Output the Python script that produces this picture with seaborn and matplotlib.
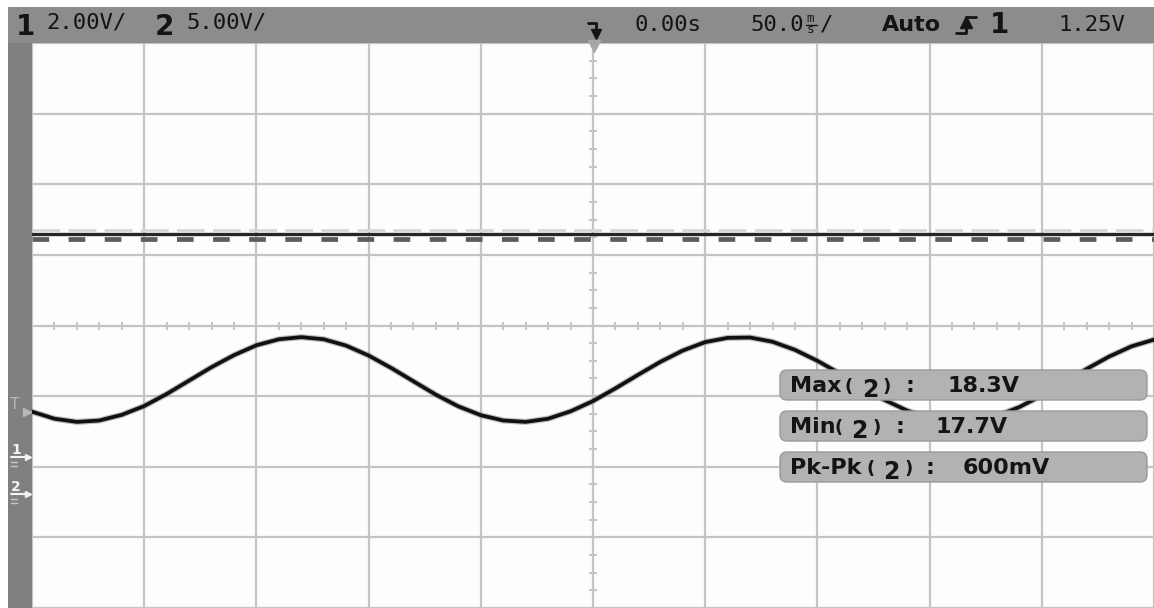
import numpy as np
import matplotlib
matplotlib.use("Agg")
import matplotlib.pyplot as plt
import seaborn as sns
from matplotlib.patches import Rectangle, FancyBboxPatch

# ---- captured data -------------------------------------------------------
# channel 1 trace, one reading every 10 ms across the screen (volts)
time_ms = list(range(-250, 251, 10))
ch1_volts = [1.14, 0.94, 0.85, 0.89, 1.05, 1.30, 1.64, 2.02, 2.40, 2.74,
             3.02, 3.19, 3.25, 3.19, 3.01, 2.73, 2.38, 2.00, 1.62, 1.29,
             1.04, 0.89, 0.85, 0.94, 1.15, 1.44, 1.80, 2.18, 2.55, 2.87,
             3.11, 3.23, 3.24, 3.12, 2.89, 2.58, 2.22, 1.83, 1.47, 1.17,
             0.96, 0.86, 0.88, 1.02, 1.27, 1.60, 1.97, 2.35, 2.70, 2.99,
             3.18]

# channel 2 measurements (volts)
ch2_max = 18.3
ch2_min = 17.7
ch2_pkpk_mv = 600

# scope settings
ch1_scale = 2.00      # V/div
ch2_scale = 5.00      # V/div
time_scale = 50.0     # ms/div
trigger_delay = 0.00  # s
trigger_level = 1.25  # V
ch1_ground_div = -1.79
ch2_ground_div = -2.31

# ---- canvas --------------------------------------------------------------
W, H = 1154, 608
sns.set_style("white")
plt.rcParams["lines.scale_dashes"] = False
fig = plt.figure(figsize=(W / 100, H / 100), dpi=100)
fig.patch.set_facecolor("white")

# graticule area in pixels: centre at (593.5, 328), 112.5 px / 72 px per div
cx, cy, pxd, pyd = 593.5, 328.0, 112.5, 72.0
left, top, right, bottom = 32, 43, W, H
ax = fig.add_axes([left / W, 1 - bottom / H, (right - left) / W, (bottom - top) / H])
ax.set_xlim((left - cx) / pxd * time_scale, (right - cx) / pxd * time_scale)
ax.set_ylim((cy - bottom) / pyd, (cy - top) / pyd)
for s in ax.spines.values():
    s.set_visible(False)
ax.set_facecolor("#fdfdfd")

grid_col = "#c4c4c4"
ax.set_xticks(np.arange(-5, 6) * time_scale)
ax.set_yticks(np.arange(-4, 5))
ax.grid(True, color=grid_col, lw=1.6)
ax.tick_params(length=0, labelbottom=False, labelleft=False)
ax.set_xlabel("")
ax.set_ylabel("")

# sub-division ticks on the centre axes
sub_x = [v for v in np.arange(-250, 251, 10) if v % 50 != 0]
sub_y = [v for v in np.arange(-4, 4.01, 0.25) if abs(v - round(v)) > 1e-6]
ax.plot(sub_x, np.zeros(len(sub_x)), ls="none", marker="|", ms=6,
        mew=1.4, color=grid_col, zorder=2)
ax.plot(np.zeros(len(sub_y)), sub_y, ls="none", marker="_", ms=6,
        mew=1.4, color=grid_col, zorder=2)

# channel 2: mean level with max/min envelope
ch2_mean = (ch2_max + ch2_min) / 2
span = [time_ms[0], time_ms[-1]]
y_hi = ch2_ground_div + ch2_max / ch2_scale
y_lo = ch2_ground_div + ch2_min / ch2_scale
y_mid = ch2_ground_div + ch2_mean / ch2_scale
sns.lineplot(x=span, y=[y_hi, y_hi], ax=ax, color="#d6d6d6", lw=2.0,
             dashes=(20, 6), zorder=3)
sns.lineplot(x=span, y=[y_lo, y_lo], ax=ax, color="#5c5c5c", lw=3.4,
             dashes=(12, 14), zorder=3)
sns.lineplot(x=span, y=[y_mid, y_mid], ax=ax, color="#262626", lw=2.4, zorder=4)

# channel 1 trace
ch1_div = [ch1_ground_div + v / ch1_scale for v in ch1_volts]
sns.lineplot(x=time_ms, y=ch1_div, ax=ax, color="#8a8a8a", lw=4.4, alpha=0.55,
             zorder=5, solid_joinstyle="round")
sns.lineplot(x=time_ms, y=ch1_div, ax=ax, color="#111111", lw=2.7, zorder=6,
             solid_joinstyle="round")

# ---- overlay (pixel coordinates, y down) ----------------------------------
ov = fig.add_axes([0, 0, 1, 1], zorder=10)
ov.set_xlim(0, W)
ov.set_ylim(H, 0)
ov.axis("off")
ov.patch.set_alpha(0)

bar_col = "#8c8c8c"
ov.add_patch(Rectangle((8, 7), W - 8, 36, color=bar_col, lw=0))
ov.add_patch(Rectangle((8, 43), 24, H - 43, color="#808080", lw=0))

ink = "#141414"
mono = "DejaVu Sans Mono"
ov.text(16, 35, "1", fontsize=20, fontweight="bold", color=ink, va="baseline")
ov.text(46, 29, f"{ch1_scale:.2f}V/", fontsize=16, family=mono, color=ink, va="baseline")
ov.text(155, 35, "2", fontsize=20, fontweight="bold", color=ink, va="baseline")
ov.text(186, 29, f"{ch2_scale:.2f}V/", fontsize=16, family=mono, color=ink, va="baseline")

# trigger position marker
ov.plot([588, 596, 596], [23, 23, 33], color=ink, lw=2)
ov.plot([596], [34], marker="v", ms=7, color=ink)
ov.plot([593.5], [46], marker="v", ms=9, color="#a8a8a8", clip_on=False)

ov.text(634, 31, f"{trigger_delay:.2f}s", fontsize=16, family=mono, color=ink, va="baseline")
ov.text(750, 31, f"{time_scale:.1f}", fontsize=16, family=mono, color=ink, va="baseline")
ov.text(806, 22, "m", fontsize=9, family=mono, color=ink, va="baseline")
ov.text(807, 33, "s", fontsize=9, family=mono, color=ink, va="baseline")
ov.plot([806, 817], [24.5, 24.5], color=ink, lw=1)
ov.text(820, 31, "/", fontsize=16, family=mono, color=ink, va="baseline")
ov.text(882, 31, "Auto", fontsize=16, fontweight="bold", color=ink, va="baseline")

# rising-edge slope icon
ov.plot([956, 966, 966, 976], [33, 33, 17, 17], color=ink, lw=2)
ov.plot([966], [22], marker="^", ms=8, color=ink)
ov.text(990, 33, "1", fontsize=20, fontweight="bold", color=ink, va="baseline")
ov.text(1058, 31, f"{trigger_level:.2f}V", fontsize=16, family=mono, color=ink, va="baseline")

# left-edge markers: trigger level and channel grounds
strip_ink = "#f4f4f4"
y_trig = cy - (ch1_ground_div + trigger_level / ch1_scale) * pyd
ov.text(10, y_trig - 3, "T", fontsize=11, color="#b8b8b8", va="baseline")
ov.plot([27], [y_trig], marker=">", ms=6, color="#b8b8b8")
for label, gdiv in (("1", ch1_ground_div), ("2", ch2_ground_div)):
    yg = cy - gdiv * pyd
    ov.text(11, yg - 3, label, fontsize=10, fontweight="bold", color=strip_ink, va="baseline")
    ov.plot([11, 26], [yg, yg], color=strip_ink, lw=1.5)
    ov.plot([28], [yg], marker=">", ms=5, color=strip_ink)
    ov.plot([11, 17], [yg + 5, yg + 5], color="#c8c8c8", lw=1)
    ov.plot([11, 17], [yg + 9, yg + 9], color="#c8c8c8", lw=1)

# measurement readouts
rows = [
    ("Max", f"{ch2_max:.1f}V", 370, [845, 862, 883, 906, 947]),
    ("Min", f"{ch2_min:.1f}V", 411, [834, 851, 872, 895, 935]),
    ("Pk-Pk", f"{ch2_pkpk_mv:.0f}mV", 452, [866, 883, 904, 926, 963]),
]
for name, value, y0, xs in rows:
    ov.add_patch(FancyBboxPatch((780, y0), 367, 30,
                                boxstyle="round,pad=0,rounding_size=7",
                                fc="#b2b2b2", ec="#9a9a9a", lw=1))
    base = y0 + 22
    ov.text(790, base, name, fontsize=16, fontweight="bold", color=ink, va="baseline")
    ov.text(xs[0], base, "(", fontsize=13, fontweight="bold", color=ink, va="baseline")
    ov.text(xs[1], base + 5, "2", fontsize=17, fontweight="bold", color=ink, va="baseline")
    ov.text(xs[2], base, ")", fontsize=13, fontweight="bold", color=ink, va="baseline")
    ov.text(xs[3], base, ":", fontsize=16, fontweight="bold", color=ink, va="baseline")
    ov.text(xs[4], base, value, fontsize=16, fontweight="bold", color=ink, va="baseline")

fig.savefig("out.png", dpi=100)
